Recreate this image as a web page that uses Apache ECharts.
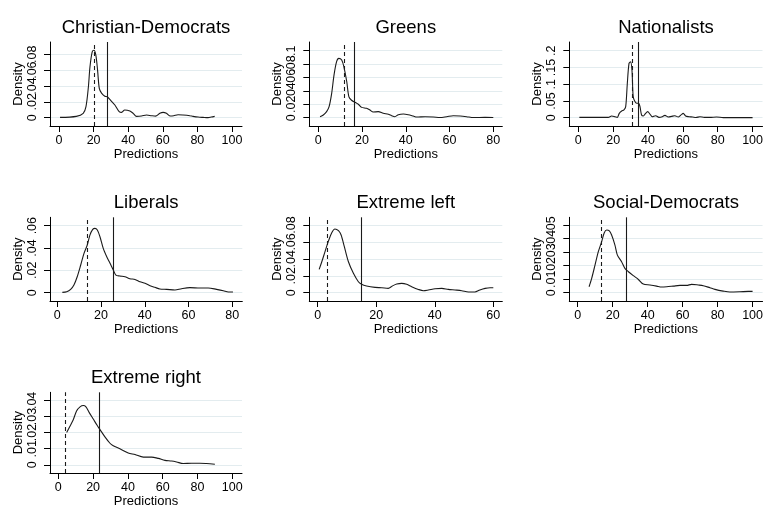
<!DOCTYPE html>
<html><head><meta charset="utf-8">
<script src="https://cdn.jsdelivr.net/npm/echarts@6/dist/echarts.min.js"></script>
<style>html,body{margin:0;padding:0;background:#fff}#c{width:766px;height:509px}</style>
</head><body><div id="c"></div>
<script>
const titles = ['Christian-Democrats','Greens','Nationalists','Liberals','Extreme left','Social-Democrats','Extreme right'];

const cdDensity = [[0.6,0.0004],[10,0.0017],[14,0.0055],[15.6,0.014],[17,0.039],[17.9,0.064],[19.2,0.083],[20.2,0.085],[21.3,0.079],[22.3,0.060],[23.3,0.037],[24.6,0.031],[26.5,0.027],[27.9,0.0265],[29.4,0.023],[32.3,0.016],[34.8,0.0076],[36.2,0.0067],[38,0.0097],[41,0.0084],[42.9,0.0055],[44.8,0.0017],[47.7,0.0021],[50.6,0.0034],[53.5,0.0025],[55.8,0.002],[58.3,0.0055],[60.2,0.0067],[62.1,0.0055],[64.4,0.0021],[66.3,0.0025],[68.8,0.0038],[71.7,0.0034],[75.6,0.0025],[77.5,0.0017],[80.4,0.0008],[83.3,0.0004],[86.2,0.0001],[88,0.0008],[90,0.0017]];
const greensDensity = [[0.8,0.0015],[2.3,0.004],[3.8,0.009],[4.9,0.016],[6.1,0.036],[7.2,0.064],[8.4,0.084],[9.4,0.0886],[10.7,0.086],[11.7,0.076],[13,0.054],[14,0.031],[15.2,0.026],[16.8,0.023],[18.3,0.020],[19.8,0.0154],[22.1,0.014],[23.6,0.0114],[25.1,0.0085],[27.4,0.009],[29.7,0.0065],[32,0.005],[33.5,0.003],[35,0.0015],[36.6,0.0045],[38.9,0.0055],[41.1,0.0045],[43.4,0.0025],[45,0.001],[48.8,0.0015],[52.6,0.001],[55.6,0.0002],[58.7,0.0015],[61.7,0.003],[64.8,0.0025],[67.8,0.0015],[70.9,0.0002],[76.2,0.0005],[80,0.0002]];
const natDensity = [[0.6,0.001],[17.2,0.001],[19.1,0.005],[21,0.003],[22.4,0.001],[23.5,0.013],[24.9,0.02],[26.2,0.023],[27.2,0.033],[28.1,0.10],[29.1,0.162],[30,0.167],[30.8,0.142],[31.5,0.063],[32.5,0.048],[33.5,0.043],[34.6,0.043],[35.4,0.033],[36.3,0.008],[37.3,0.005],[38.6,0.013],[39.8,0.018],[41.1,0.011],[42.4,0.003],[44.4,0.006],[46.3,0.001],[48.2,0.003],[49.7,0.007],[51.6,0.002],[53.5,0.004],[55.4,0.006],[57.4,0.002],[59.3,0.01],[60.2,0.013],[61.6,0.005],[63.5,0.003],[65.6,0.002],[67.5,0.0005],[69.8,0.003],[72.3,0.001],[75.5,0.001],[79.3,0.002],[83.2,0.0003],[100,0.0002]];
const libDensity = [[2.3,0.0003],[4.3,0.0009],[6.1,0.003],[7.6,0.0069],[9.1,0.0143],[10.7,0.0248],[12.2,0.0352],[13.7,0.0427],[14.9,0.0516],[16.2,0.0567],[17.2,0.0576],[18.3,0.0561],[19.5,0.0501],[21,0.0397],[22.6,0.0322],[24.1,0.0263],[25.6,0.0203],[26.8,0.0158],[28.6,0.0149],[30.9,0.0143],[33.2,0.0125],[35.5,0.0119],[37.8,0.0098],[40.1,0.0084],[42.4,0.0063],[44.6,0.0048],[46.9,0.0033],[50,0.003],[53.8,0.0024],[56.8,0.0036],[60.6,0.0045],[65.2,0.0042],[69,0.0042],[72.8,0.003],[75.9,0.0018],[78.2,0.0006],[80.3,0.0006]];
const elDensity = [[0.5,0.0276],[1.4,0.0366],[2.5,0.0485],[3.6,0.0603],[4.8,0.0709],[5.9,0.0753],[7.1,0.0733],[8,0.0682],[9.1,0.0544],[10.5,0.0366],[12.2,0.0229],[13.9,0.013],[15,0.0099],[16.7,0.0079],[19.6,0.0063],[21.9,0.0059],[24.1,0.0051],[25.5,0.0079],[27,0.0102],[28.7,0.011],[30.4,0.0099],[32.1,0.0071],[34.4,0.0039],[36.1,0.0024],[37.8,0.0032],[40.1,0.0047],[42.4,0.0051],[44.6,0.0039],[46.9,0.0032],[49.2,0.0024],[51.5,0.0008],[53.7,0.0008],[55.4,0.0032],[57.2,0.0051],[58.9,0.0059],[60,0.0059]];
const sdDensity = [[6.5,0.0044],[8,0.0106],[9.9,0.0204],[11.8,0.0303],[13.7,0.0377],[15.2,0.0443],[16.6,0.0463],[18.1,0.0456],[19.4,0.0426],[21.3,0.0352],[22.7,0.0278],[25.1,0.0229],[27,0.018],[29,0.0155],[31.8,0.0126],[34.7,0.0098],[37.5,0.0064],[41.3,0.0057],[45.1,0.0049],[48,0.0042],[50.9,0.0044],[54.7,0.0049],[58.5,0.0054],[62.3,0.0054],[65.1,0.0062],[69,0.0057],[71.8,0.0052],[75.6,0.0037],[78.5,0.0025],[83.2,0.0012],[87,0.0005],[92.8,0.0007],[97.5,0.001],[100,0.001]];
const erDensity = [[4.8,0.020],[6.7,0.024],[8.6,0.028],[10.5,0.0334],[12.5,0.036],[14.4,0.0368],[15.9,0.036],[17.8,0.0324],[20.1,0.0284],[22.4,0.0244],[23.9,0.022],[26.8,0.0174],[29.7,0.0134],[31.6,0.0118],[35.4,0.01],[40.2,0.0074],[44.1,0.0064],[48.9,0.0048],[53.6,0.0048],[57.5,0.004],[61.3,0.0028],[65.1,0.0024],[68,0.0018],[71.8,0.0008],[76.6,0.001],[81.4,0.001],[85.2,0.0008],[90,0.0004]];
const densities = [cdDensity, greensDensity, natDensity, libDensity, elDensity, sdDensity, erDensity];

const dashedLines = [20.6, 11.7, 31.2, 13.7, 3.4, 13.3, 3.85];
const solidLines  = [28.1, 16.5, 34.4, 25.8, 14.9, 28.0, 23.8];

const xTicks = [
  [0,20,40,60,80,100],[0,20,40,60,80],[0,20,40,60,80,100],
  [0,20,40,60,80],[0,20,40,60],[0,20,40,60,80,100],[0,20,40,60,80,100]
];
const yTicks = [
  [0,0.02,0.04,0.06,0.08],[0,0.02,0.04,0.06,0.08,0.1],[0,0.05,0.1,0.15,0.2],
  [0,0.02,0.04,0.06],[0,0.02,0.04,0.06,0.08],[0,0.01,0.02,0.03,0.04,0.05],[0,0.01,0.02,0.03,0.04]
];

// layout (px) and axis extents
const layout = [
  {l:50,   t:42,    w:192,   h:84,   xr:[-5.2,105.8], yr:[-0.01047,0.0955]},
  {l:309.3,t:42,    w:193,   h:84,   xr:[-4.11,84.11], yr:[-0.0124,0.113]},
  {l:569.3,t:42,    w:193.4, h:84,   xr:[-5.16,105.7], yr:[-0.0248,0.226]},
  {l:50,   t:217.3, w:192.3, h:83.7, xr:[-3.34,84.57], yr:[-0.00743,0.0675]},
  {l:309.3,t:217.3, w:193,   h:83.7, xr:[-2.87,63.07], yr:[-0.0098,0.0891]},
  {l:569.3,t:217.3, w:193.4, h:83.7, xr:[-4.8,105.7],  yr:[-0.0061,0.0557]},
  {l:50,   t:392.3, w:192,   h:83.4, xr:[-4.77,105.6], yr:[-0.00505,0.045]}
];
const titleY = [28,28,28,203,203,203,378];

const FONT = '"Liberation Sans", Arial, Helvetica, sans-serif';
const fmt = v => v === 0 ? '0' : String(+v.toFixed(4)).replace(/^0\./, '.');
const labelBase = {fontSize:12.5, fontFamily:FONT, color:'#000'};

const grid = [], xAxis = [], yAxis = [], series = [], graphic = [];
layout.forEach((g, i) => {
  grid.push({left:g.l, top:g.t, width:g.w, height:g.h, containLabel:false});
  xAxis.push({
    type:'value', gridIndex:i, min:g.xr[0], max:g.xr[1],
    name:'Predictions', nameLocation:'middle', nameGap:22,
    nameTextStyle:{fontSize:13, fontFamily:FONT, color:'#000'},
    axisLine:{show:true, onZero:false, lineStyle:{color:'#000', width:1}},
    axisTick:{show:true, length:6, lineStyle:{color:'#000'}, customValues:xTicks[i]},
    axisLabel:Object.assign({margin:8, customValues:xTicks[i], hideOverlap:false}, labelBase),
    splitLine:{show:false}
  });
  const evenT = yTicks[i].filter((v, k) => k % 2 === 0);
  const oddT = yTicks[i].filter((v, k) => k % 2 === 1);
  // main axis: line, ticks, grid lines, even labels
  yAxis.push({
    type:'value', gridIndex:i, min:g.yr[0], max:g.yr[1],
    name:'Density', nameLocation:'middle', nameGap:25, nameRotate:90,
    nameTextStyle:{fontSize:13, fontFamily:FONT, color:'#000'},
    axisLine:{show:true, onZero:false, lineStyle:{color:'#000', width:1}},
    axisTick:{show:true, length:6, lineStyle:{color:'#000'}, customValues:yTicks[i]},
    axisLabel:Object.assign({margin:11, rotate:90, formatter:fmt, customValues:evenT,
               hideOverlap:false, showMinLabel:true, showMaxLabel:true}, labelBase),
    splitLine:{show:true, lineStyle:{color:'#e3ecef', width:1}}
  });
  // companion axis for the in-between labels (same scale)
  yAxis.push({
    type:'value', gridIndex:i, min:g.yr[0], max:g.yr[1], position:'left',
    axisLine:{show:false}, axisTick:{show:false}, splitLine:{show:false},
    axisLabel:Object.assign({margin:11, rotate:90, formatter:fmt, customValues:oddT,
               hideOverlap:false, showMinLabel:true, showMaxLabel:true}, labelBase)
  });
  series.push({
    type:'line', xAxisIndex:i, yAxisIndex:2*i, data:densities[i],
    showSymbol:false, smooth:0.3, lineStyle:{color:'#1a1a1a', width:1.1},
    silent:true,
    markLine:{
      silent:true, symbol:'none', label:{show:false},
      data:[
        {xAxis:dashedLines[i], lineStyle:{color:'#1a1a1a', width:1.1, type:[4,3]}},
        {xAxis:solidLines[i], lineStyle:{color:'#1a1a1a', width:1.1, type:'solid'}}
      ]
    }
  });
  graphic.push({
    type:'text', x:g.l + g.w/2, y:titleY[i],
    style:{text:titles[i], align:'center', verticalAlign:'middle',
           fontSize:18.5, fontFamily:FONT, fill:'#000'}
  });
});

const chart = echarts.init(document.getElementById('c'), null, {renderer:'canvas'});
chart.setOption({backgroundColor:'#fff', animation:false, grid, xAxis, yAxis, series, graphic});
</script></body></html>
